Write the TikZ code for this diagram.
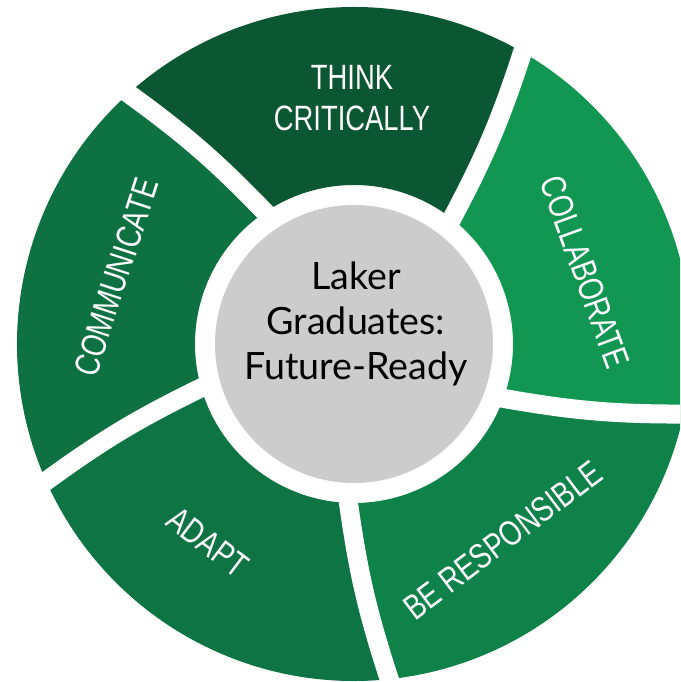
\documentclass[tikz,border=0pt]{standalone}
\usepackage{fontspec}
\newfontfamily\segfont[FakeStretch=0.78]{Liberation Sans}
\newfontfamily\corefont{Lato}
\definecolor{thinkgreen}{HTML}{0B5633}
\definecolor{commgreen}{HTML}{0E7141}
\definecolor{adaptgreen}{HTML}{0E7443}
\definecolor{respgreen}{HTML}{0F8249}
\definecolor{collabgreen}{HTML}{129753}
\definecolor{coregray}{HTML}{CCCCCC}
\tikzset{
  gap/.style={white,line width=0.19cm,line cap=rect},
  seglabel/.style={text=white,font=\segfont\fontsize{10}{11.7}\selectfont,align=center,inner sep=0pt}
}
\begin{document}
\begin{tikzpicture}
\useasboundingbox (-3.54,-3.38) rectangle (3.26,3.44);
\clip (-3.54,-3.38) rectangle (3.26,3.44);
\fill[thinkgreen] (52:1.59) to[bend right=5] (60:3.37) arc[start angle=60,end angle=132,radius=3.37] to[bend left=5] (124:1.59) arc[start angle=124,end angle=52,radius=1.59] -- cycle;
\fill[commgreen] (124:1.59) to[bend right=5] (132:3.37) arc[start angle=132,end angle=204,radius=3.37] to[bend left=5] (196:1.59) arc[start angle=196,end angle=124,radius=1.59] -- cycle;
\fill[adaptgreen] (196:1.59) to[bend right=5] (204:3.37) arc[start angle=204,end angle=276,radius=3.37] to[bend left=5] (268:1.59) arc[start angle=268,end angle=196,radius=1.59] -- cycle;
\fill[respgreen] (268:1.59) to[bend right=5] (276:3.37) arc[start angle=276,end angle=348,radius=3.37] to[bend left=5] (340:1.59) arc[start angle=340,end angle=268,radius=1.59] -- cycle;
\fill[collabgreen] (340:1.59) to[bend right=5] (348:3.37) arc[start angle=348,end angle=420,radius=3.37] to[bend left=5] (412:1.59) arc[start angle=412,end angle=340,radius=1.59] -- cycle;
\draw[gap] (52:1.59) to[bend right=5] (60:3.37);
\draw[gap] (124:1.59) to[bend right=5] (132:3.37);
\draw[gap] (196:1.59) to[bend right=5] (204:3.37);
\draw[gap] (268:1.59) to[bend right=5] (276:3.37);
\draw[gap] (340:1.59) to[bend right=5] (348:3.37);
\fill[coregray] (0,0) circle (1.39);
\node[align=center,font=\corefont\fontsize{10.7}{12.8}\selectfont] (core) at (0.02,0.2) {Laker\\Graduates:\\Future-Ready};
\node[seglabel] (think) at (-0.02,2.46) {THINK\\CRITICALLY};
\node[seglabel,rotate=72] (communicate) at (164.3:2.47) {COMMUNICATE};
\node[seglabel,rotate=-70] (collaborate) at (17.3:2.42) {COLLABORATE};
\node[seglabel,rotate=-37] (adapt) at (233.6:2.46) {ADAPT};
\node[seglabel,rotate=37] (responsible) at (307.2:2.46) {BE RESPONSIBLE};
\end{tikzpicture}
\end{document}
